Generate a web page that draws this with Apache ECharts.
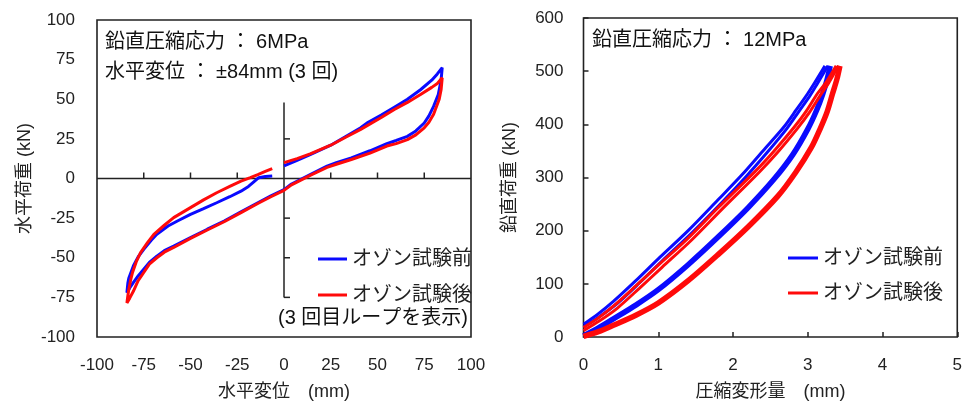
<!DOCTYPE html>
<html><head><meta charset="utf-8">
<script src="https://cdn.jsdelivr.net/npm/echarts@6/dist/echarts.min.js"></script>
<style>html,body{margin:0;padding:0;background:#fff}#c{width:965px;height:406px}</style>
</head><body><div id="c"></div>
<script>
const FONT = "'Liberation Sans','Noto Sans CJK JP',sans-serif";
const seriesNames = ['オゾン試験前', 'オゾン試験後'];
const seriesColors = ['#0a0aff', '#ff0a0a'];

// Left chart: horizontal displacement (mm) vs horizontal load (kN), 3rd loop
const beforeLoopH = [[0,8],[7,11.5],[14,15],[25,21],[33,26.5],[41,32],[45,35.5],[52,40],[59,45],[66,50],[73,56],[79,62],[82,66],[84.6,70],
 [84,62],[82.5,53],[80,45.5],[77.5,39.5],[75,35],[70.5,30],[66,26.6],[60,24],[55,22],[46,17.5],[36,13],[28,10],[23,7.8],[14,2.5],[9,-0.6],[4,-3.5],[0,-7],
 [-7,-11],[-14,-15.3],[-23,-21],[-32,-26.8],[-41,-32],[-50,-37.3],[-59,-42.6],[-64,-45.5],[-68,-49],[-72,-53],[-75,-57.2],[-78,-61.5],[-80.5,-65.6],[-82.5,-69],[-84,-72],
 [-83.5,-66],[-83,-63],[-80.5,-55],[-78,-49.5],[-75,-44.7],[-71,-39],[-68,-35.2],[-62,-30],[-57,-26.8],[-50,-22.6],[-43,-19],[-36,-15.3],[-29,-11.5],[-23,-8],[-19,-5],[-16,-2],[-13.5,0.5],[-10,1.3],[-6.3,1.6]];
const afterLoopH = [[0,10],[7,12.5],[14,15.5],[25,21],[33,26],[41,31],[52,38.5],[59,43.5],[66,48],[73,53],[79,57.5],[82,60],[84.6,63.5],
 [84,56],[83,50],[80,40.5],[77.5,35.5],[75,32],[70.5,27.5],[66,24.5],[60,22],[55,20.5],[46,16],[36,12],[28,9],[23,7],[14,2],[9,-1],[4,-4],[0,-7.5],
 [-7,-11.5],[-14,-15.8],[-23,-21.5],[-32,-27.3],[-41,-32.5],[-50,-37.8],[-59,-43.5],[-64,-46.5],[-68,-50],[-72,-54],[-75,-59.3],[-78,-64.5],[-80.5,-71],[-82.5,-75.5],[-84,-78.5],
 [-83.5,-74],[-83,-70],[-82,-64],[-81,-59.3],[-79,-52.5],[-76.7,-46.7],[-73,-40.5],[-69.6,-35.2],[-64,-29.5],[-59,-24.7],[-50,-18.4],[-43,-13.5],[-36,-9],[-29,-5],[-23,-1.7],[-18,0.6],[-14,2.5],[-10,4.5],[-6.3,6.3]];

// inner cross axes of the left chart
const innerXTicks = [-75,-50,-25,25,50,75];
const innerYTicks = [-75,-50,-25,25];
const innerXSpan = [-100,100];
const innerYSpan = [-75,48];

// Right chart: compression deformation (mm) vs vertical load (kN)
const beforeLoadV = [[0,2],[0.2,17],[0.4,34],[0.7,60],[1.0,89],[1.4,136],[1.8,188],[2.2,243],[2.55,297],[2.8,343],[3.0,391],[3.12,427],[3.2,457],[3.26,485],[3.3,510]];
const beforeUnloadV1 = [[3.23,510],[3.1,480],[3.0,458],[2.85,428],[2.68,395],[2.4,350],[2.12,305],[1.8,258],[1.4,200],[1.0,147],[0.7,106],[0.4,67],[0.2,44],[0,24]];
const beforeUnloadV2 = [[3.27,510],[3.13,477],[3.03,454],[2.88,424],[2.72,392],[2.45,346],[2.17,301],[1.85,253],[1.45,196],[1.05,143],[0.75,102],[0.45,63],[0.22,39],[0,19]];
const afterLoadV = [[0,1],[0.2,10],[0.4,22],[0.7,41],[1.0,64],[1.4,106],[1.8,155],[2.2,207],[2.6,265],[2.84,310],[3.05,357],[3.17,393],[3.26,424],[3.33,457],[3.39,485],[3.43,510]];
const afterUnloadV1 = [[3.38,510],[3.25,480],[3.13,458],[2.98,425],[2.82,395],[2.55,350],[2.3,312],[1.8,243],[1.4,186],[1.0,135],[0.7,96],[0.4,58],[0.2,36],[0,18]];
const afterUnloadV2 = [[3.41,510],[3.28,478],[3.17,455],[3.02,422],[2.86,392],[2.6,348],[2.35,310],[1.85,240],[1.45,183],[1.05,131],[0.75,92],[0.45,54],[0.22,31],[0,12]];

const AX = '#222';
const chart = echarts.init(document.getElementById('c'), null, {renderer: 'canvas'});

function lineSeries(name, color, data, grid, width, smooth) {
  return {type: 'line', name, data, xAxisIndex: grid, yAxisIndex: grid, showSymbol: false, symbol: 'none',
    smooth: smooth, lineStyle: {color, width}, itemStyle: {color}, z: 3, silent: true, clip: false};
}

const labelStyle = {fontSize: 17, color: AX, fontFamily: FONT};
const nameStyle = {fontSize: 18, color: AX, fontFamily: FONT};

const option = {
  animation: false,
  backgroundColor: '#fff',
  grid: [
    {left: 97, top: 20, width: 374, height: 318, show: true, borderColor: AX, borderWidth: 1.6, backgroundColor: '#fff'},
    {left: 583.5, top: 18, width: 378, height: 320, show: true, borderColor: AX, borderWidth: 1.6, backgroundColor: '#fff'}
  ],
  xAxis: [
    {gridIndex: 0, type: 'value', min: -100, max: 100, interval: 25,
      axisLine: {show: false, onZero: false}, axisTick: {show: false}, splitLine: {show: false},
      axisLabel: Object.assign({margin: 20}, labelStyle),
      name: '水平変位　(mm)', nameLocation: 'middle', nameGap: 46, nameTextStyle: nameStyle},
    {gridIndex: 1, type: 'value', min: 0, max: 5, interval: 1,
      axisLine: {show: false, onZero: false}, axisTick: {show: true, inside: true, length: 5, lineStyle: {color: AX, width: 1.5}}, splitLine: {show: false},
      axisLabel: Object.assign({margin: 20}, labelStyle),
      name: '圧縮変形量　(mm)', nameLocation: 'middle', nameGap: 46, nameTextStyle: nameStyle}
  ],
  yAxis: [
    {gridIndex: 0, type: 'value', min: -100, max: 100, interval: 25,
      axisLine: {show: false, onZero: false}, axisTick: {show: false}, splitLine: {show: false},
      axisLabel: Object.assign({margin: 22}, labelStyle),
      name: '水平荷重 (kN)', nameLocation: 'middle', nameGap: 63, nameTextStyle: nameStyle},
    {gridIndex: 1, type: 'value', min: 0, max: 600, interval: 100,
      axisLine: {show: false, onZero: false}, axisTick: {show: true, inside: true, length: 5, lineStyle: {color: AX, width: 1.5}}, splitLine: {show: false},
      axisLabel: Object.assign({margin: 20}, labelStyle),
      name: '鉛直荷重 (kN)', nameLocation: 'middle', nameGap: 64, nameTextStyle: nameStyle}
  ],
  legend: [
    {data: seriesNames, orient: 'vertical', left: 313, top: 244, itemGap: 16, icon: 'rect', itemWidth: 29, itemHeight: 3,
      textStyle: {fontSize: 20, lineHeight: 20, color: AX, fontFamily: FONT}, selectedMode: false},
    {data: seriesNames, orient: 'vertical', left: 783, top: 243, itemGap: 15, icon: 'rect', itemWidth: 30, itemHeight: 3,
      textStyle: {fontSize: 20, lineHeight: 20, color: AX, fontFamily: FONT}, selectedMode: false}
  ],
  graphic: [
    {type: 'text', x: 105, y: 42, z: 10, style: {text: '鉛直圧縮応力 ： 6MPa', fontSize: 20, fontFamily: FONT, fill: '#111', verticalAlign: 'middle'}},
    {type: 'text', x: 105, y: 72, z: 10, style: {text: '水平変位 ： ±84mm (3 回)', fontSize: 20, fontFamily: FONT, fill: '#111', verticalAlign: 'middle'}},
    {type: 'text', x: 592, y: 40, z: 10, style: {text: '鉛直圧縮応力 ： 12MPa', fontSize: 20, fontFamily: FONT, fill: '#111', verticalAlign: 'middle'}},
    {type: 'text', x: 468, y: 318, z: 10, style: {text: '(3 回目ループを表示)', fontSize: 20, fontFamily: FONT, fill: '#111', align: 'right', verticalAlign: 'middle'}}
  ],
  series: [
    {type: 'custom', name: 'innerX', xAxisIndex: 0, yAxisIndex: 0, z: 1, silent: true, clip: false,
      data: innerXTicks.map(v => [v, 0]),
      renderItem: function (params, api) {
        const p = api.coord([api.value(0), 0]);
        const ch = [{type: 'line', shape: {x1: p[0], y1: p[1], x2: p[0], y2: p[1] - 6}, style: {stroke: AX, lineWidth: 1.5}}];
        if (params.dataIndex === 0) {
          const a = api.coord([innerXSpan[0], 0]), b = api.coord([innerXSpan[1], 0]);
          ch.push({type: 'line', shape: {x1: a[0], y1: a[1], x2: b[0], y2: b[1]}, style: {stroke: AX, lineWidth: 1.5}});
        }
        return {type: 'group', children: ch};
      }},
    {type: 'custom', name: 'innerY', xAxisIndex: 0, yAxisIndex: 0, z: 1, silent: true, clip: false,
      data: innerYTicks.map(v => [0, v]),
      renderItem: function (params, api) {
        const p = api.coord([0, api.value(1)]);
        const ch = [{type: 'line', shape: {x1: p[0], y1: p[1], x2: p[0] + 6, y2: p[1]}, style: {stroke: AX, lineWidth: 1.5}}];
        if (params.dataIndex === 0) {
          const a = api.coord([0, innerYSpan[0]]), b = api.coord([0, innerYSpan[1]]);
          ch.push({type: 'line', shape: {x1: a[0], y1: a[1], x2: b[0], y2: b[1]}, style: {stroke: AX, lineWidth: 1.5}});
        }
        return {type: 'group', children: ch};
      }},
    lineSeries(seriesNames[0], seriesColors[0], beforeLoopH, 0, 3, false),
    lineSeries(seriesNames[1], seriesColors[1], afterLoopH, 0, 3, false),
    lineSeries(seriesNames[0], seriesColors[0], beforeLoadV, 1, 5.5, 0.3),
    lineSeries(seriesNames[0], seriesColors[0], beforeUnloadV1, 1, 3, 0.3),
    lineSeries(seriesNames[0], seriesColors[0], beforeUnloadV2, 1, 3, 0.3),
    lineSeries(seriesNames[1], seriesColors[1], afterLoadV, 1, 5.5, 0.3),
    lineSeries(seriesNames[1], seriesColors[1], afterUnloadV1, 1, 3, 0.3),
    lineSeries(seriesNames[1], seriesColors[1], afterUnloadV2, 1, 3, 0.3)
  ]
};
chart.setOption(option);
</script></body></html>
